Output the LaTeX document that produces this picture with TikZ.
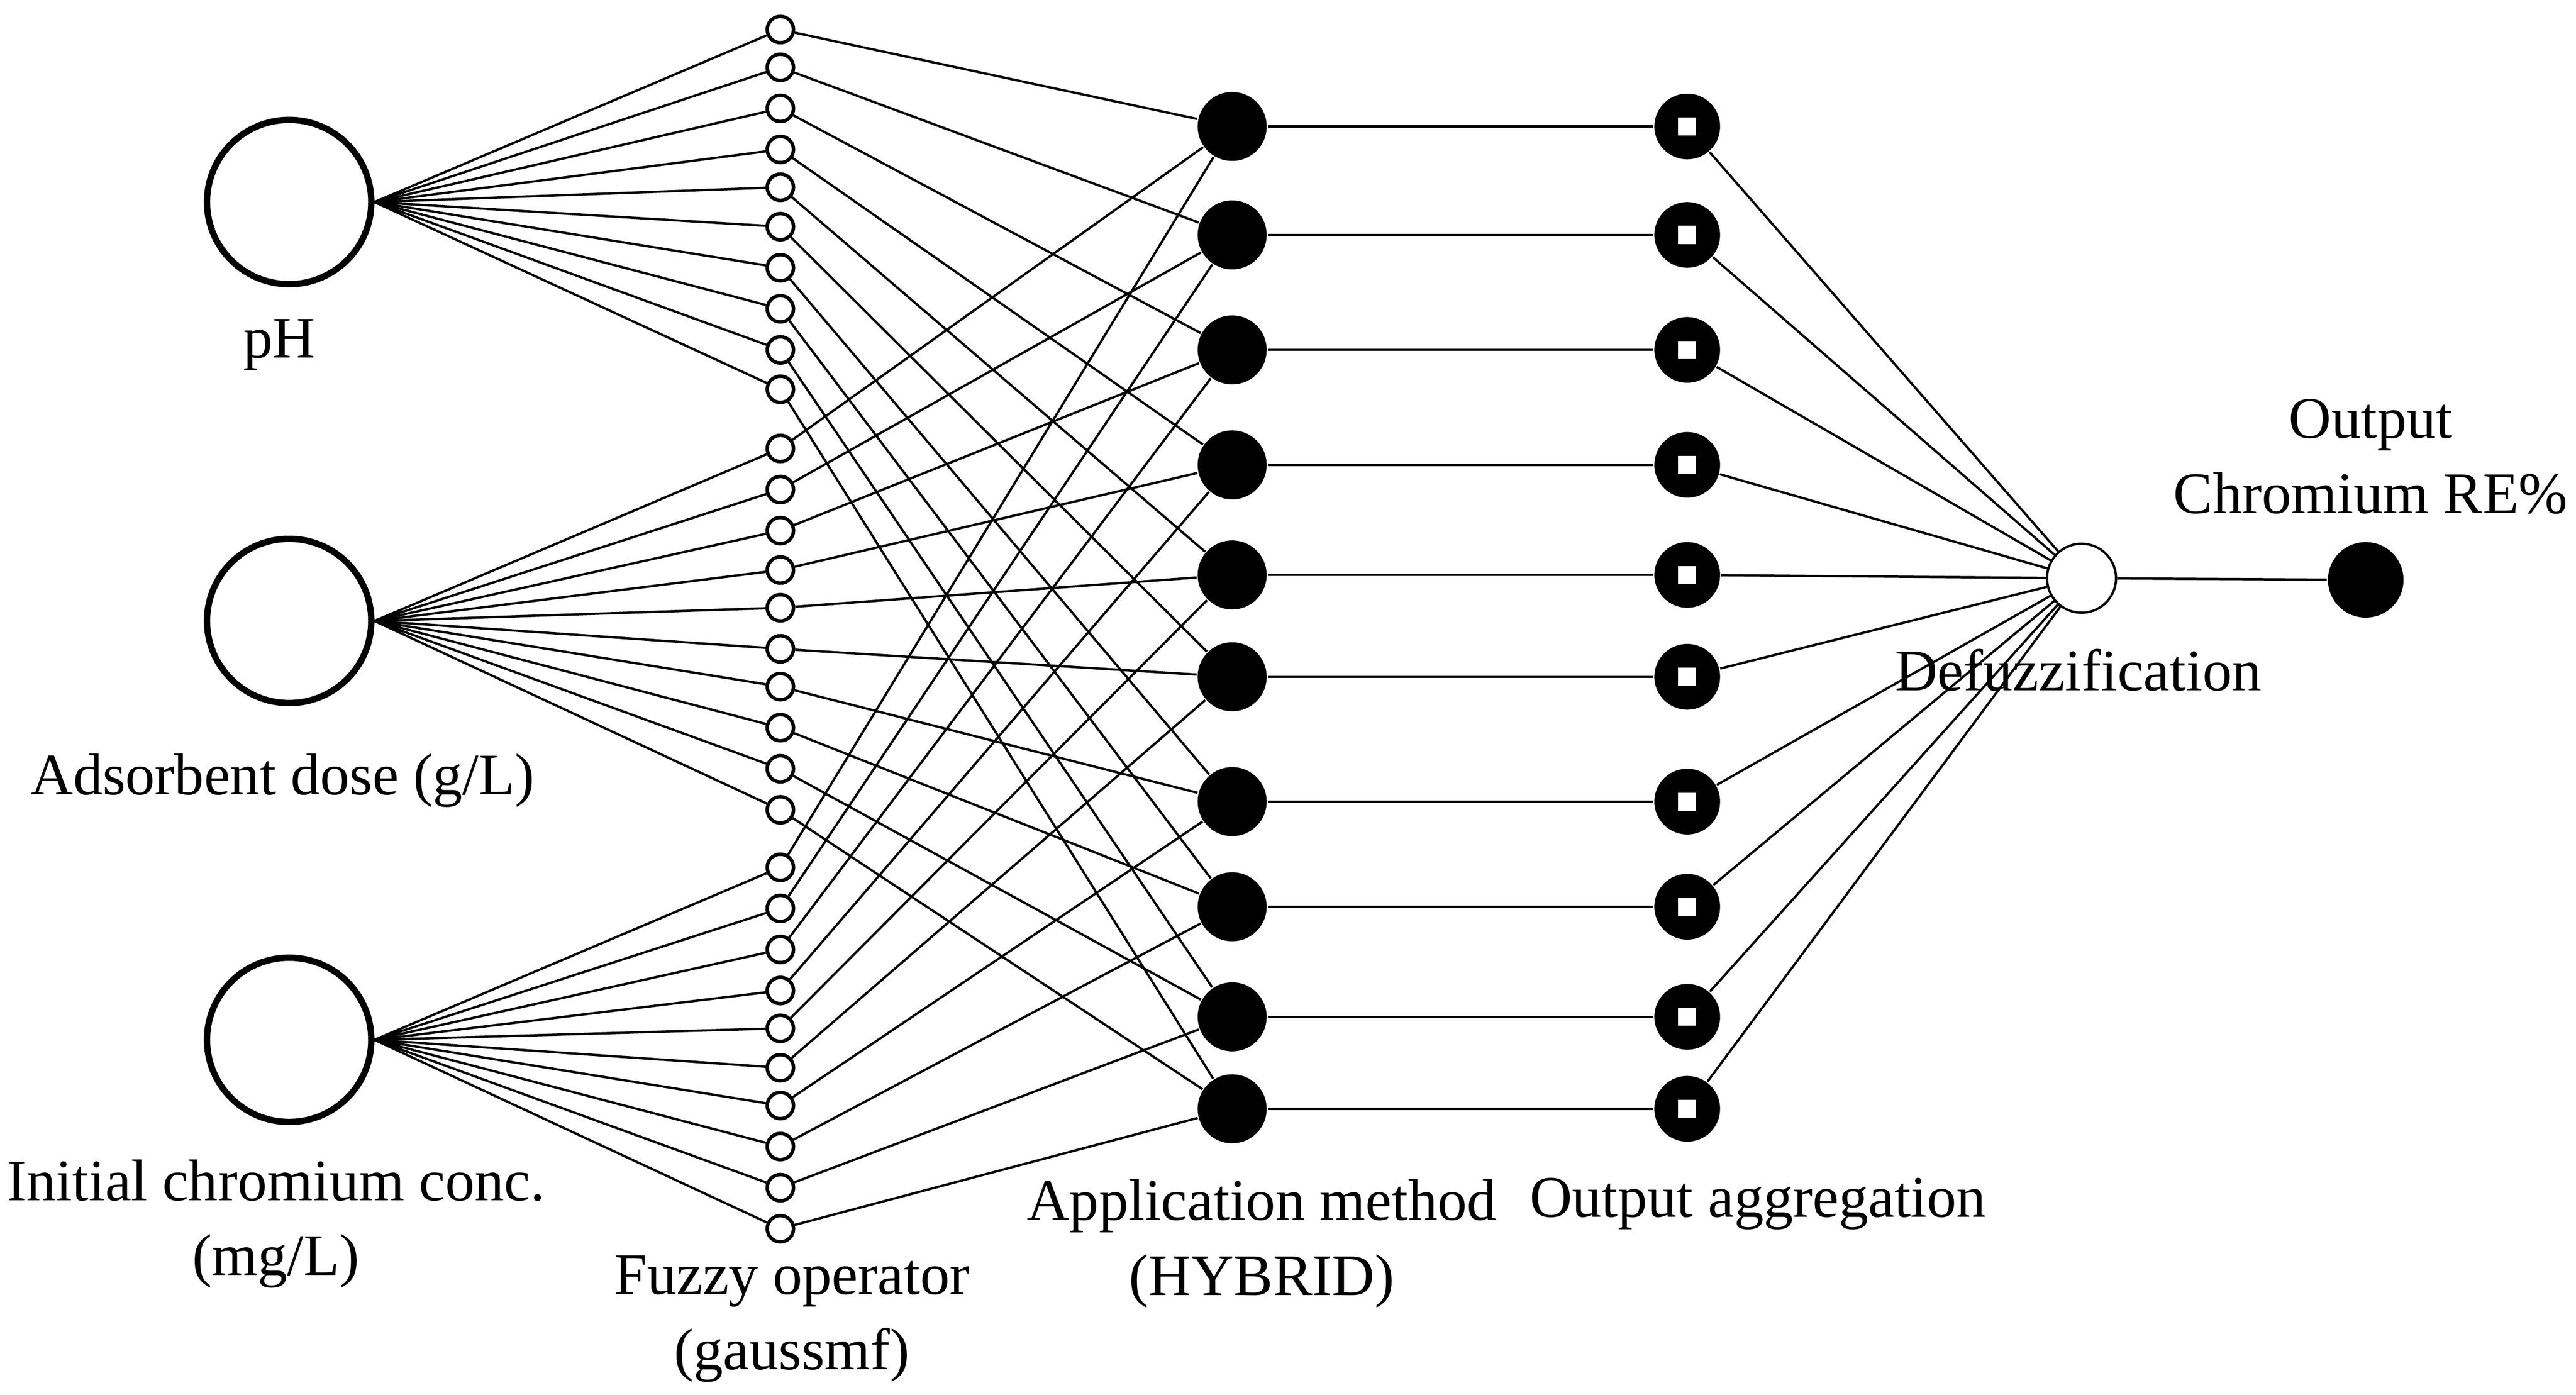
\documentclass[tikz,border=0pt]{standalone}
\usepackage{fontspec}
\setmainfont{Liberation Serif}
\usetikzlibrary{positioning}
\tikzset{
    inp/.style={circle,draw,line width=1.1pt,minimum size=1.0cm,inner sep=0pt},
    mf/.style={circle,draw,line width=0.6pt,minimum size=0.16cm,inner sep=0pt},
    rule/.style={circle,fill=black,minimum size=0.42cm,inner sep=0pt},
    agg/.style={circle,fill=black,minimum size=0.4cm,inner sep=0pt,
        path picture={\fill[white] ([xshift=-0.055cm,yshift=-0.055cm]path picture bounding box.center) rectangle ++(0.11cm,0.11cm);}},
    defz/.style={circle,draw,line width=0.4pt,minimum size=0.42cm,inner sep=0pt},
    outn/.style={circle,fill=black,minimum size=0.46cm,inner sep=0pt},
    lbl/.style={align=center,font=\fontsize{10.2}{13}\selectfont,inner sep=0pt},
    wire/.style={line width=0.4pt},
}
\begin{document}
\begin{tikzpicture}[x=1cm,y=-1cm]
    \useasboundingbox (0,0) rectangle (15.68,8.49);
    % inputs
    \node[inp] (in1) at (1.76,1.23) {};
    \node[inp] (in2) at (1.76,3.78) {};
    \node[inp] (in3) at (1.76,6.33) {};
    \node[lbl] at (1.70,2.10) {pH};
    \node[lbl] at (1.72,4.75) {Adsorbent dose (g/L)};
    \node[lbl] at (1.68,7.45) {Initial chromium conc.\\(mg/L)};
    % membership functions
    \foreach \g/\ys in {1/{0.18,0.41,0.66,0.91,1.14,1.38,1.63,1.88,2.13,2.37},
                        2/{2.73,2.98,3.23,3.47,3.70,3.95,4.18,4.43,4.68,4.93},
                        3/{5.28,5.53,5.78,6.03,6.26,6.50,6.73,6.98,7.23,7.48}}{
        \foreach \y [count=\k] in \ys {
            \node[mf] (m\g-\k) at (4.75,\y) {};
            \draw[wire] (in\g.east) -- (m\g-\k);
        }
    }
    % rules and aggregation
    \foreach \y [count=\k] in {0.77,1.43,2.13,2.83,3.50,4.12,4.88,5.52,6.19,6.75}{
        \node[rule] (r\k) at (7.50,\y) {};
        \node[agg] (a\k) at (10.27,\y) {};
        \draw[wire] (r\k) -- (a\k);
        \foreach \g in {1,2,3}{
            \draw[wire] (m\g-\k) -- (r\k);
        }
    }
    \node[defz] (d) at (12.67,3.52) {};
    \node[outn] (o) at (14.40,3.53) {};
    \foreach \k in {1,...,10}{
        \draw[wire] (a\k) -- (d);
    }
    \draw[wire] (d) -- (o);
    % labels
    \node[lbl] at (4.82,8.03) {Fuzzy operator\\(gaussmf)};
    \node[lbl] at (7.68,7.57) {Application method\\(HYBRID)};
    \node[lbl] at (10.70,7.33) {Output aggregation};
    \node[lbl] at (12.65,4.08) {Defuzzification};
    \node[lbl] at (14.43,2.78) {Output\\Chromium RE\%};
\end{tikzpicture}
\end{document}
